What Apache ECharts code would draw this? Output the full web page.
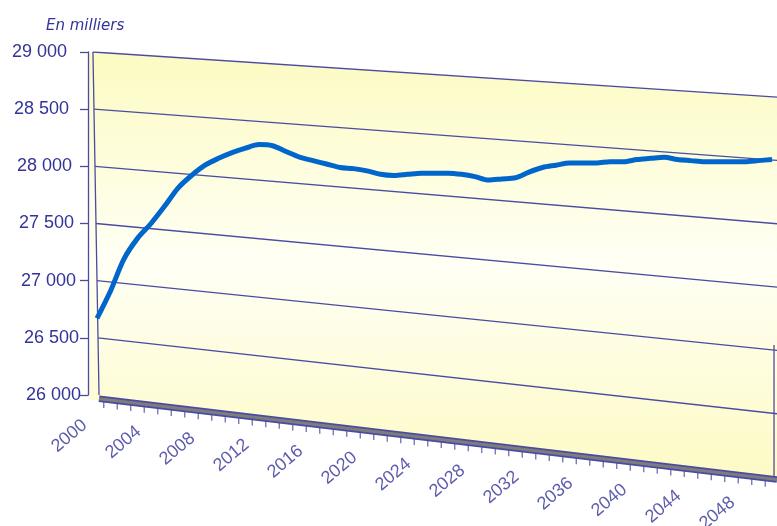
<!DOCTYPE html>
<html><head><meta charset="utf-8">
<script src="https://cdn.jsdelivr.net/npm/echarts@6/dist/echarts.min.js"></script>
<style>html,body{margin:0;padding:0;background:#fff}#c{width:777px;height:526px}</style>
</head><body><div id="c"></div>
<script>
// ---- data ----
const years = [];
for (let y = 2000; y <= 2050; y++) years.push(y);
const activeValues = [
  26670, 26910, 27190, 27370, 27500, 27650, 27810, 27920, 28010, 28070,
  28120, 28160, 28190, 28180, 28130, 28080, 28050, 28020, 27990, 27980,
  27960, 27930, 27920, 27930, 27940, 27940, 27940, 27930, 27910, 27880,
  27890, 27900, 27950, 27990, 28010, 28030, 28030, 28030, 28040, 28040,
  28060, 28070, 28080, 28060, 28050, 28040, 28040, 28040, 28040, 28050,
  28060
];
const yTicks = [26000, 26500, 27000, 27500, 28000, 28500, 29000];
const xLabelYears = [2000, 2004, 2008, 2012, 2016, 2020, 2024, 2028, 2032, 2036, 2040, 2044, 2048];
const unitLabel = 'En milliers';

// ---- pseudo-3D frame (decoration) ----
const X0 = 1999.333, X1 = 2050.37;          // horizontal extent of the wall
const Y_TOP = 29000, Y_BOT = 26000;
const DEC_MIN = 24854.4;                      // decor grid extends to page bottom
const drop = v => 394 + (Y_TOP - v) * 0.108;  // perspective slope of each grid line
const innerX = v => 1999.70 + (Y_TOP - v) / 3000 * 0.45; // inner wall edge
const slant = (v, shift) => [[innerX(v), v - (shift || 0)], [X1, v - drop(v) - (shift || 0)]];
const floorAt = (x, shift) => Y_BOT - shift - drop(Y_BOT) * (x - X0) / (X1 - X0);

const NAVY = '#333399';
const GRID_COL = '#4b4ba3';
const fmt = v => String(v).replace(/\B(?=(\d{3})+$)/g, ' ');

// per-label right padding so the value labels follow the slanted wall edge
const rich = {};
yTicks.forEach((v, i) => {
  rich['p' + i] = {
    padding: [0, Math.round((v - Y_BOT) / 3000 * 14), 0, 0],
    fontFamily: 'Liberation Sans, Arial, sans-serif', fontSize: 18, color: NAVY
  };
});

const series = [];
// wall fill
series.push({
  type: 'line', xAxisIndex: 0, yAxisIndex: 0, silent: true, symbol: 'none', z: 1,
  data: [[X0, Y_TOP], [X1, Y_TOP - drop(Y_TOP)]],
  lineStyle: { width: 0 },
  areaStyle: {
    origin: 'start', opacity: 1,
    color: new echarts.graphic.LinearGradient(0, 0, 0, 1, [
      { offset: 0, color: '#fcfbc2' },
      { offset: 0.45, color: '#fffff5' },
      { offset: 0.85, color: '#fdfbc9' },
      { offset: 1, color: '#fbf8bc' }
    ])
  }
});
// white below floor
series.push({
  type: 'line', xAxisIndex: 0, yAxisIndex: 0, silent: true, symbol: 'none', z: 2,
  data: [[X0, floorAt(X0, 40)], [X1, floorAt(X1, 40)]],
  lineStyle: { width: 0 },
  areaStyle: { origin: 'start', opacity: 1, color: '#ffffff' }
});
// slanted grid lines
yTicks.filter(v => v !== Y_BOT).forEach(v => {
  series.push({
    type: 'line', xAxisIndex: 0, yAxisIndex: 0, silent: true, symbol: 'none', z: 3,
    data: slant(v), lineStyle: { width: 1.3, color: GRID_COL }
  });
});
// floor ticks
series.push({
  type: 'scatter', xAxisIndex: 0, yAxisIndex: 0, silent: true, z: 3,
  symbol: 'rect', symbolSize: [1.3, 7], symbolOffset: [0, 5],
  itemStyle: { color: GRID_COL },
  data: years.map(y => [y + 0.5, floorAt(y + 0.5, 22)])
});
// floor slab
series.push({
  type: 'line', xAxisIndex: 0, yAxisIndex: 0, silent: true, symbol: 'none', z: 4,
  data: [[innerX(Y_BOT), floorAt(innerX(Y_BOT), 22)], [X1, floorAt(X1, 22)]],
  lineStyle: { width: 6.5, color: GRID_COL }
});
series.push({
  type: 'line', xAxisIndex: 0, yAxisIndex: 0, silent: true, symbol: 'none', z: 5,
  data: [[innerX(Y_BOT), floorAt(innerX(Y_BOT), 22)], [X1, floorAt(X1, 22)]],
  lineStyle: { width: 3, color: '#7d7d7d' }
});
// inner wall edge
series.push({
  type: 'line', xAxisIndex: 0, yAxisIndex: 0, silent: true, symbol: 'none', z: 4,
  data: [[innerX(Y_TOP), Y_TOP], [innerX(Y_BOT), Y_BOT]],
  lineStyle: { width: 1.3, color: GRID_COL }
});
// right wall edge
series.push({
  type: 'line', xAxisIndex: 0, yAxisIndex: 0, silent: true, symbol: 'none', z: 4,
  data: [[2050.15, 26437], [2050.15, floorAt(2050.15, 0)]],
  lineStyle: { width: 1.3, color: GRID_COL }
});
// year labels along the slanted floor (anchor nudged down-left of each year)
series.push({
  type: 'scatter', xAxisIndex: 0, yAxisIndex: 0, silent: true, z: 6, clip: false,
  symbolSize: 0,
  data: xLabelYears.map(y => ({ name: String(y), value: [y - 1.52, floorAt(y, 0) + 12] })),
  label: {
    show: true, formatter: '{b}', rotate: 40, position: 'inside', offset: [-32, 27],
    fontFamily: 'Liberation Sans, Arial, sans-serif', fontSize: 18, color: NAVY
  }
});
// data line
series.push({
  name: 'Population active', type: 'line', xAxisIndex: 1, yAxisIndex: 1, z: 10,
  data: years.map((y, i) => [y, activeValues[i]]),
  showSymbol: false, symbol: 'none', smooth: 0.3,
  lineStyle: { width: 5, color: '#0066cc' }
});

const chart = echarts.init(document.getElementById('c'), null, { renderer: 'canvas' });
chart.setOption({
  animation: false,
  backgroundColor: '#ffffff',
  title: {
    text: unitLabel, left: 41, top: 14,
    textStyle: { fontFamily: 'DejaVu Sans, Verdana, sans-serif', fontStyle: 'italic', fontWeight: 'normal', fontSize: 15, color: NAVY }
  },
  grid: [
    { left: 88, right: 0, top: 52, bottom: 0 },
    { left: 88, right: 0, top: 52, height: 343 }
  ],
  xAxis: [
    { gridIndex: 0, type: 'value', min: X0, max: X1, show: false },
    { gridIndex: 1, type: 'value', min: X0, max: X1, show: false }
  ],
  yAxis: [
    { gridIndex: 0, type: 'value', min: DEC_MIN, max: Y_TOP, show: false },
    {
      gridIndex: 1, type: 'value', min: Y_BOT, max: Y_TOP, interval: 500, z: 20,
      axisLine: { show: true, lineStyle: { color: GRID_COL, width: 1.3 } },
      axisTick: { show: true, length: 8, lineStyle: { color: GRID_COL, width: 1.3 } },
      splitLine: { show: false },
      axisLabel: {
        margin: 7, rich: rich,
        formatter: v => '{p' + yTicks.indexOf(v) + '|' + fmt(v) + '}',
        fontFamily: 'Liberation Sans, Arial, sans-serif', fontSize: 18, color: NAVY
      }
    }
  ],
  series: series
});
</script>
</body></html>
